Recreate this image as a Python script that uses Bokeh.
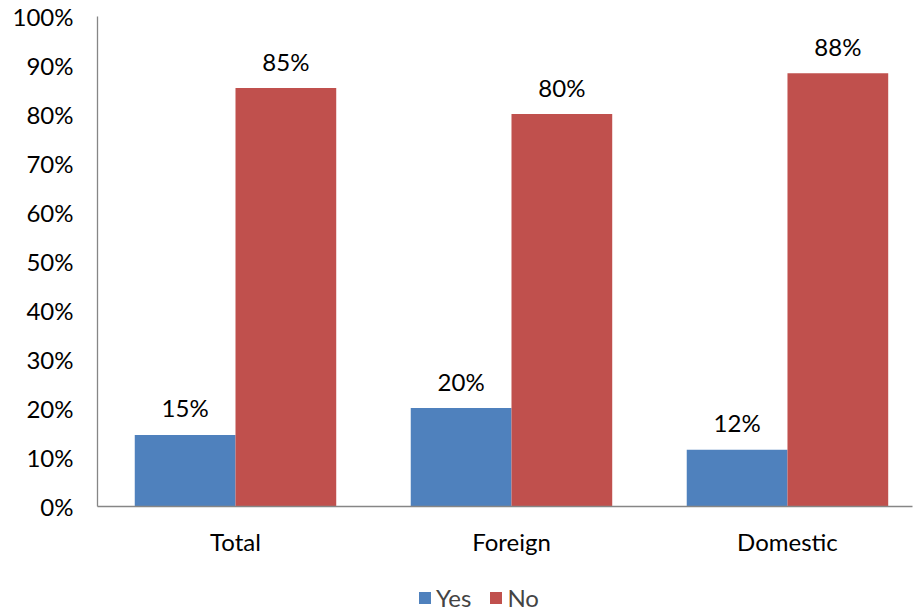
from bokeh.plotting import figure
from bokeh.layouts import column
from bokeh.models import Range1d, NumeralTickFormatter, FixedTicker, Legend, LegendItem, ColumnDataSource
from bokeh.embed import file_html
from bokeh.resources import INLINE

categories = ["Total", "Foreign", "Domestic"]
yes_values = [0.146, 0.201, 0.116]
no_values = [0.854, 0.801, 0.884]
series_names = ["Yes", "No"]
colors = ["#4F81BD", "#C0504D"]
y_ticks = [i / 10 for i in range(11)]

FONT = "Lato"
FS = "24px"

def lbl(v):
    return f"{round(v * 100):d}%"

bw = 0.365
xc = [i + 0.5 for i in range(len(categories))]
src = ColumnDataSource(dict(
    xc=xc,
    x_yes=[x - bw / 2 for x in xc],
    x_no=[x + bw / 2 for x in xc],
    yes=yes_values,
    no=no_values,
    yes_lbl=[lbl(v) for v in yes_values],
    no_lbl=[lbl(v) for v in no_values],
))

MAIN_H = 558
p = figure(x_range=Range1d(0, 2.953), y_range=Range1d(0, 1),
           width=913, height=MAIN_H, output_backend="svg", toolbar_location=None,
           min_border_left=97, min_border_right=1, min_border_top=16, min_border_bottom=MAIN_H - 508)
p.outline_line_color = None
p.xgrid.grid_line_color = None
p.ygrid.grid_line_color = None

p.vbar(x="x_yes", top="yes", width=bw, source=src, fill_color=colors[0], line_color=None)
p.vbar(x="x_no", top="no", width=bw, source=src, fill_color=colors[1], line_color=None)

for key, lab, xk in (("yes", "yes_lbl", "x_yes"), ("no", "no_lbl", "x_no")):
    p.text(x=xk, y=key, text=lab, source=src,
           text_align="center", text_baseline="middle", y_offset=-27,
           text_font_size=FS, text_color="#000000", text_font={"value": FONT})

p.yaxis.ticker = FixedTicker(ticks=y_ticks)
p.yaxis.formatter = NumeralTickFormatter(format="0%")
p.xaxis.ticker = FixedTicker(ticks=xc)
p.xaxis.major_label_overrides = {x: c for x, c in zip(xc, categories)}
for ax in (p.xaxis, p.yaxis):
    ax.axis_line_color = "#868686"
    ax.axis_line_width = 1.3
    ax.major_tick_line_color = None
    ax.minor_tick_line_color = None
    ax.major_tick_in = 0
    ax.major_tick_out = 0
    ax.major_label_text_font = FONT
    ax.major_label_text_font_size = FS
    ax.major_label_text_color = "#000000"
p.yaxis.major_label_standoff = 24
p.xaxis.major_label_standoff = 20

# legend strip
LEG_H = 612 - MAIN_H
p2 = figure(width=913, height=LEG_H, output_backend="svg", toolbar_location=None,
            x_range=Range1d(0, 1), y_range=Range1d(0, 1),
            x_axis_location=None, y_axis_location=None,
            min_border_left=0, min_border_right=0, min_border_top=0, min_border_bottom=0)
p2.outline_line_color = None
p2.grid.visible = False
ry = p2.vbar(x=[0.5], top=[0], bottom=[0], width=0.01, fill_color=colors[0], line_color=None)
rn = p2.vbar(x=[0.5], top=[0], bottom=[0], width=0.01, fill_color=colors[1], line_color=None)
legend = Legend(items=[LegendItem(label=series_names[0], renderers=[ry]),
                       LegendItem(label=series_names[1], renderers=[rn])],
                orientation="horizontal", location=(320, 0),
                label_text_font=FONT, label_text_font_size=FS,
                glyph_width=15, glyph_height=15, spacing=17, label_standoff=4,
                border_line_color=None, background_fill_alpha=0, padding=0, margin=0)
p2.add_layout(legend, "center")

open("out.html", "w").write(file_html(column(p, p2, spacing=0), INLINE))
